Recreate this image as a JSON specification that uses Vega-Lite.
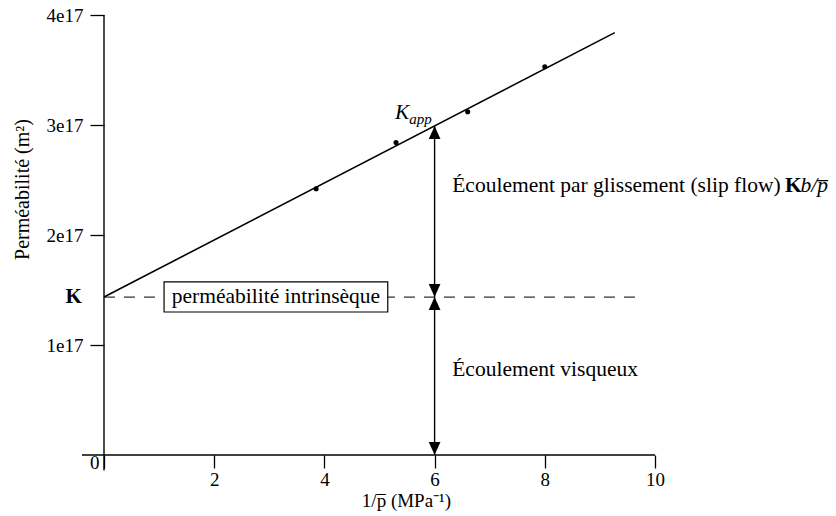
{
  "$schema": "https://vega.github.io/schema/vega-lite/v6.json",
  "autosize": "none",
  "width": 551,
  "height": 440,
  "padding": {"left": 104, "top": 15, "right": 181, "bottom": 61},
  "background": "white",
  "config": {"view": {"stroke": null}},
  "datasets": {
    "axes": [
      {"x": -0.4, "x2": 10, "y": 0, "y2": 0},
      {"x": 0, "x2": 0, "y": -1.4e16, "y2": 4e17}
    ],
    "fit": [{"x": 0, "y": 1.436e17}, {"x": 9.27, "y": 3.84e17}],
    "pts": [
      {"x": 3.85, "y": 2.42e17},
      {"x": 5.3, "y": 2.84e17},
      {"x": 6.6, "y": 3.12e17},
      {"x": 8.0, "y": 3.53e17}
    ],
    "dash": [{"x": 0, "x2": 9.73, "y": 1.436e17}],
    "box": [{"x": 1.09, "x2": 5.15, "y": 1.573e17, "y2": 1.3e17}],
    "boxtext": [{"x": 3.12, "y": 1.436e17, "label": "perméabilité intrinsèque"}],
    "vrule": [{"x": 6, "y": 0, "y2": 2.992e17}],
    "heads": [
      {"x": 6, "y": 2.992e17, "dir": "up"},
      {"x": 6, "y": 1.436e17, "dir": "down"},
      {"x": 6, "y": 1.436e17, "dir": "up"},
      {"x": 6, "y": 0, "dir": "down"}
    ],
    "txt": [
      {"x": 6.32, "y": 2.445e17, "label": "Écoulement par glissement (slip flow)"},
      {"x": 6.32, "y": 0.773e17, "label": "Écoulement visqueux"}
    ],
    "zero": [{"x": -0.17, "y": -0.07e17, "label": "0"}],
    "bold": [{"x": 12.36, "y": 2.445e17, "label": "K"}],
    "kleft": [{"x": -0.4, "y": 1.436e17, "label": "K"}],
    "ital": [
      {"x": 12.64, "y": 2.445e17, "label": "b/p̅"},
      {"x": 5.28, "y": 3.109e17, "label": "K"}
    ],
    "sub": [{"x": 5.54, "y": 3.055e17, "label": "app"}]
  },
  "encoding": {
    "x": {
      "field": "x", "type": "quantitative",
      "scale": {"domain": [0, 10], "nice": false, "zero": false},
      "axis": {
        "values": [0, 2, 4, 6, 8, 10],
        "labelExpr": "datum.value == 0 ? '' : datum.label",
        "labelFlush": false,
        "domain": false, "grid": false,
        "tickSize": 13, "tickColor": "black", "tickWidth": 1.3,
        "labelFont": "Liberation Serif", "labelFontSize": 19, "labelColor": "black",
        "labelPadding": 2,
        "title": "1/p̅ (MPa⁻¹)",
        "titleFont": "Liberation Serif", "titleFontSize": 19, "titleFontWeight": "normal",
        "titleColor": "black", "titleX": 302, "titleY": 45, "titleBaseline": "middle"
      }
    },
    "y": {
      "field": "y", "type": "quantitative",
      "scale": {"domain": [0, 4e17], "nice": false, "zero": false},
      "axis": {
        "values": [1e17, 2e17, 3e17, 4e17],
        "labelExpr": "format(datum.value / 1e17, 'd') + 'e17'",
        "labelFlush": false,
        "domain": false, "grid": false,
        "tickSize": 14, "tickColor": "black", "tickWidth": 1.3,
        "labelFont": "Liberation Serif", "labelFontSize": 19, "labelColor": "black",
        "labelPadding": 7,
        "title": "Perméabilité (m²)",
        "titleFont": "Liberation Serif", "titleFontSize": 20, "titleFontWeight": "normal",
        "titleColor": "black", "titleAngle": -90, "titleX": -82, "titleY": 174,
        "titleAlign": "center", "titleBaseline": "middle"
      }
    }
  },
  "layer": [
    {
      "data": {"name": "axes"},
      "mark": {"type": "rule", "color": "black", "strokeWidth": 1.4},
      "encoding": {"x2": {"field": "x2"}, "y2": {"field": "y2"}}
    },
    {
      "data": {"name": "dash"},
      "mark": {"type": "rule", "color": "#333333", "strokeWidth": 1.3, "strokeDash": [11, 9]},
      "encoding": {"x2": {"field": "x2"}}
    },
    {
      "data": {"name": "box"},
      "mark": {"type": "rect", "fill": "white", "stroke": "black", "strokeWidth": 1.2},
      "encoding": {"x2": {"field": "x2"}, "y2": {"field": "y2"}}
    },
    {
      "data": {"name": "boxtext"},
      "mark": {"type": "text", "font": "Liberation Serif", "fontSize": 21.5, "color": "black", "align": "center", "baseline": "middle"},
      "encoding": {"text": {"field": "label"}}
    },
    {
      "data": {"name": "fit"},
      "mark": {"type": "line", "color": "black", "strokeWidth": 1.6, "clip": false},
      "encoding": {}
    },
    {
      "data": {"name": "pts"},
      "mark": {"type": "point", "filled": true, "color": "black", "size": 26, "opacity": 1},
      "encoding": {}
    },
    {
      "data": {"name": "vrule"},
      "mark": {"type": "rule", "color": "black", "strokeWidth": 1.4},
      "encoding": {"y2": {"field": "y2"}}
    },
    {
      "data": {"name": "heads"},
      "mark": {"type": "point", "filled": true, "color": "black", "size": 676, "opacity": 1, "strokeWidth": 0},
      "encoding": {
        "shape": {
          "field": "dir", "type": "nominal",
          "scale": {"domain": ["up", "down"], "range": ["M0,0L-0.45,1L0.45,1Z", "M0,0L-0.45,-1L0.45,-1Z"]},
          "legend": null
        }
      }
    },
    {
      "data": {"name": "txt"},
      "mark": {"type": "text", "font": "Liberation Serif", "fontSize": 21.5, "color": "black", "align": "left", "baseline": "middle"},
      "encoding": {"text": {"field": "label"}}
    },
    {
      "data": {"name": "zero"},
      "mark": {"type": "text", "font": "Liberation Serif", "fontSize": 19, "color": "black", "align": "center", "baseline": "middle"},
      "encoding": {"text": {"field": "label"}}
    },
    {
      "data": {"name": "bold"},
      "mark": {"type": "text", "font": "Liberation Serif", "fontSize": 21.5, "fontWeight": "bold", "color": "black", "align": "left", "baseline": "middle"},
      "encoding": {"text": {"field": "label"}}
    },
    {
      "data": {"name": "kleft"},
      "mark": {"type": "text", "font": "Liberation Serif", "fontSize": 21, "fontWeight": "bold", "color": "black", "align": "right", "baseline": "middle"},
      "encoding": {"text": {"field": "label"}}
    },
    {
      "data": {"name": "ital"},
      "mark": {"type": "text", "font": "Liberation Serif", "fontSize": 21.5, "fontStyle": "italic", "color": "black", "align": "left", "baseline": "middle"},
      "encoding": {"text": {"field": "label"}}
    },
    {
      "data": {"name": "sub"},
      "mark": {"type": "text", "font": "Liberation Serif", "fontSize": 15, "fontStyle": "italic", "color": "black", "align": "left", "baseline": "middle"},
      "encoding": {"text": {"field": "label"}}
    }
  ]
}
